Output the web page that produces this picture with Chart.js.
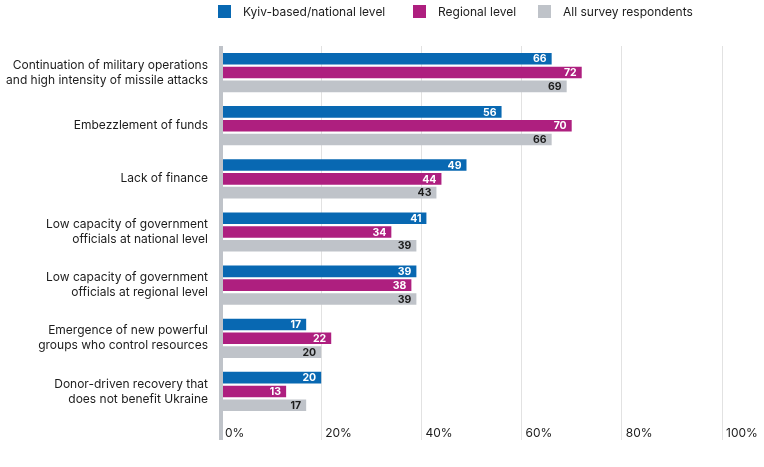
<!DOCTYPE html>
<html>
<head>
<meta charset="utf-8">
<script src="https://cdn.jsdelivr.net/npm/chart.js@4"></script>
<style>
  html, body { margin: 0; padding: 0; background: #fff; }
  #wrap { position: relative; width: 764px; height: 467px; font-family: Inter, Roboto, sans-serif; }
  #chart { position: absolute; left: 0; top: 0; }
  .leg { position: absolute; top: 4px; display: flex; align-items: center; font-size: 12px; color: #1c1c1c; white-space: nowrap; }
  .leg i { display: inline-block; width: 13px; height: 13px; margin-right: 12px; }
</style>
</head>
<body>
<div id="wrap">
  <canvas id="chart" width="764" height="467"></canvas>
  <div id="legend"></div>
</div>
<script>
// ---- data ----
const categories = [
  ['Continuation of military operations', 'and high intensity of missile attacks'],
  'Embezzlement of funds',
  'Lack of finance',
  ['Low capacity of government', 'officials at national level'],
  ['Low capacity of government', 'officials at regional level'],
  ['Emergence of new powerful', 'groups who control resources'],
  ['Donor-driven recovery that', 'does not benefit Ukraine']
];
const seriesNames = ['Kyiv-based/national level', 'Regional level', 'All survey respondents'];
const kyivValues = [66, 56, 49, 41, 39, 17, 20];
const regionalValues = [72, 70, 44, 34, 38, 22, 13];
const allValues = [69, 66, 43, 39, 39, 20, 17];
const xTickStep = 20;

const colors = ['#0868b2', '#ae1f7f', '#bfc3c9'];
const labelColors = ['#ffffff', '#ffffff', '#1c1c1c'];
const legendLeft = [218, 413, 538];

// legend
const legendEl = document.getElementById('legend');
legendEl.innerHTML = seriesNames.map((n, i) => `
  <div class="leg" style="left:${legendLeft[i]}px"><i style="background:${colors[i]}"></i>${n}</div>
`).join('');

// value labels at bar ends
const valueLabels = {
  id: 'valueLabels',
  afterDatasetsDraw(chart) {
    const ctx = chart.ctx;
    ctx.save();
    ctx.font = 'bold 10.5px Inter, Roboto, sans-serif';
    ctx.textAlign = 'right';
    ctx.textBaseline = 'middle';
    chart.data.datasets.forEach((ds, di) => {
      const meta = chart.getDatasetMeta(di);
      ctx.fillStyle = labelColors[di];
      meta.data.forEach((bar, i) => {
        ctx.fillText(ds.data[i], bar.x - 5, bar.y + 0.5);
      });
    });
    ctx.restore();
  }
};

new Chart(document.getElementById('chart'), {
  type: 'bar',
  data: {
    labels: categories,
    datasets: [kyivValues, regionalValues, allValues].map((vals, i) => ({
      label: seriesNames[i],
      data: vals,
      backgroundColor: colors[i],
      borderWidth: 0,
      categoryPercentage: 0.78,
      barPercentage: 0.84
    }))
  },
  options: {
    indexAxis: 'y',
    responsive: false,
    animation: false,
    layout: { padding: { top: 46, right: 42, bottom: 19, left: 0 } },
    plugins: {
      legend: { display: false },
      tooltip: { enabled: false }
    },
    scales: {
      x: {
        min: 0,
        max: 100,
        afterFit: (scale) => { scale.height = 30; },
        border: { display: false },
        grid: {
          color: (c) => c.index === 0 ? '#bfc3c9' : '#e2e2e2',
          lineWidth: (c) => c.index === 0 ? 4 : 1,
          drawTicks: true,
          tickLength: 22
        },
        ticks: {
          stepSize: xTickStep,
          align: 'start',
          labelOffset: 4,
          padding: -14,
          color: '#1c1c1c',
          font: { family: 'Inter, Roboto, sans-serif', size: 12 },
          callback: (v) => v + '%'
        }
      },
      y: {
        afterFit: (scale) => { scale.width = 221; },
        border: { display: false },
        grid: { display: false },
        ticks: {
          padding: 5,
          color: '#1c1c1c',
          font: { family: 'Inter, Roboto, sans-serif', size: 12, lineHeight: 1.25 }
        }
      }
    }
  },
  plugins: [valueLabels]
});
</script>
</body>
</html>
